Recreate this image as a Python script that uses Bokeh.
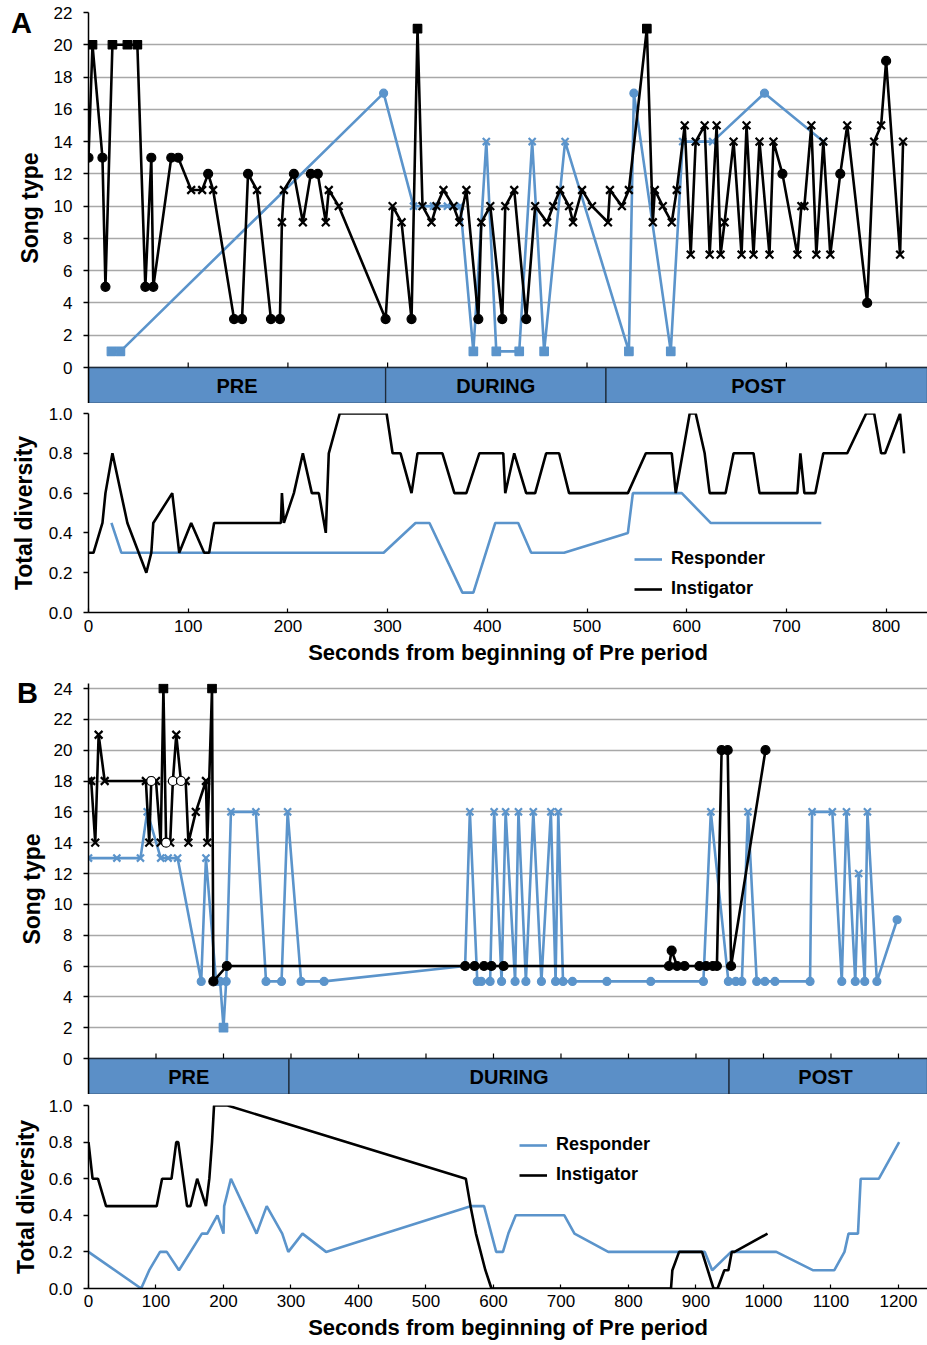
import numpy as np
from bokeh.plotting import figure
from bokeh.layouts import column
from bokeh.models import (FixedTicker, Legend, LegendItem, Range1d, Div,
                          NumeralTickFormatter)
from bokeh.core.properties import value
from bokeh.embed import file_html
from bokeh.resources import INLINE

FONT = "Liberation Sans"
BLUE = "#5B94CB"
BAR = "#5B8FC7"
BLACK = "#000000"

# ---------------- Panel A : song type ----------------
a_inst_t = [0, 4, 14, 17, 24, 39, 49, 57, 63, 65,
            83, 90, 103, 114, 120, 125, 146, 154, 160, 169,
            183, 192, 194, 196, 206, 215, 223, 230, 238, 241,
            251, 298, 305, 314, 324, 330, 335, 344, 349, 356,
            366, 372, 379, 391, 394, 403, 415, 418, 427, 439,
            448, 460, 466, 473, 482, 486, 495, 505, 521, 523,
            535, 542, 560, 566, 568, 576, 585, 590, 598, 604,
            609, 618, 623, 630, 634, 638, 647, 655, 660, 667,
            673, 683, 687, 696, 711, 715, 718, 725, 730, 737,
            744, 754, 761, 781, 788, 795, 800, 814, 817]
a_inst_v = [13, 20, 13, 5, 20, 20, 20, 5, 13, 5,
            13, 13, 11, 11, 12, 11, 3, 3, 12, 11,
            3, 3, 9, 11, 12, 9, 12, 12, 9, 11,
            10, 3, 10, 9, 3, 21, 10, 9, 10, 11,
            10, 9, 11, 3, 9, 10, 3, 10, 11, 3,
            10, 9, 10, 11, 10, 9, 11, 10, 9, 11,
            10, 11, 21, 9, 11, 10, 9, 11, 15, 7,
            14, 15, 7, 15, 7, 9, 14, 7, 15, 7,
            14, 7, 14, 12, 7, 10, 10, 15, 7, 14,
            7, 12, 15, 4, 14, 15, 19, 7, 14]
a_inst_m = list("osoosssooo"
                "ooxxoxooox"
                "ooxxoxooxx"
                "xoxxosxxxx"
                "xxxoxxoxxo"
                "xxxxxxxxxx"
                "xxsxxxxxxx"
                "xxxxxxxxxx"
                "xxxoxxxxxx"
                "xoxoxxoxx")

a_resp_t = [23, 32, 296, 326, 346, 360, 373, 386, 399, 409,
            432, 445, 457, 478, 542, 547, 584, 596, 609, 626,
            678, 737]
a_resp_v = [1, 1, 17, 10, 10, 10, 10, 1, 14, 1,
            1, 14, 1, 14, 1, 17, 1, 14, 14, 14,
            17, 14]
a_resp_m = list("ssoxxxxsxs"
                "sxsxsosxxx"
                "ox")

# ---------------- Panel A : total diversity ----------------
a_div_inst_t = [0, 5, 14, 17, 24, 39, 58, 63, 65, 84, 91, 103, 116, 121, 126,
                193, 194, 196, 206, 215, 224, 231, 238, 241, 252, 299, 305, 313,
                324, 330, 355, 367, 379, 392, 416, 418, 427, 439, 448, 459, 472,
                482, 541, 559, 585, 589, 603, 609, 618, 623, 639, 647, 667, 673,
                711, 714, 718, 729, 737, 761, 780, 788, 795, 799, 814, 818]
a_div_inst_v = [0.3, 0.3, 0.45, 0.6, 0.8, 0.45, 0.2, 0.3, 0.45, 0.6, 0.3, 0.45, 0.3, 0.3, 0.45,
                0.45, 0.6, 0.45, 0.6, 0.8, 0.6, 0.6, 0.4, 0.8, 1.0, 1.0, 0.8, 0.8,
                0.6, 0.8, 0.8, 0.6, 0.6, 0.8, 0.8, 0.6, 0.8, 0.6, 0.6, 0.8, 0.8,
                0.6, 0.6, 0.8, 0.8, 0.6, 1.0, 1.0, 0.8, 0.6, 0.6, 0.8, 0.8, 0.6,
                0.6, 0.8, 0.6, 0.6, 0.8, 0.8, 1.0, 1.0, 0.8, 0.8, 1.0, 0.8]
a_div_resp_t = [23, 33, 296, 328, 342, 375, 386, 408, 431, 444, 477, 541, 546, 595, 624, 735]
a_div_resp_v = [0.45, 0.3, 0.3, 0.45, 0.45, 0.1, 0.1, 0.45, 0.45, 0.3, 0.3, 0.4, 0.6, 0.6, 0.45, 0.45]

# ---------------- Panel B : song type ----------------
b_inst_t = [0, 4, 10, 15, 24, 85, 90, 93, 100, 107,
            111, 115, 121, 125, 130, 137, 144, 148, 159, 174,
            176, 183, 185, 205, 558, 572, 586, 597, 615, 860,
            864, 872, 883, 905, 915, 925, 931, 938, 947, 952,
            1003]
b_inst_v = [18, 18, 14, 21, 18, 18, 14, 18, 18, 14,
            24, 14, 14, 18, 21, 18, 18, 14, 16, 18,
            14, 24, 5, 6, 6, 6, 6, 6, 6, 6,
            7, 6, 6, 6, 6, 6, 6, 20, 20, 6,
            20]
b_inst_m = list("xxxxxxxcxx"
                "scxcxcxxxx"
                "xsoooooooo"
                "oooooooooo"
                "o")

b_resp_t = [0, 42, 77, 87, 107, 118, 132, 167, 174, 189,
            195, 200, 204, 211, 248, 263, 286, 295, 315, 349,
            558, 565, 576, 582, 595, 601, 612, 618, 632, 637,
            648, 659, 671, 685, 692, 696, 703, 717, 768, 833,
            911, 922, 948, 959, 968, 977, 990, 1002, 1017, 1069,
            1072, 1102, 1116, 1123, 1136, 1141, 1150, 1154, 1168, 1198]
b_resp_v = [13, 13, 13, 16, 13, 13, 13, 5, 13, 5,
            5, 2, 5, 16, 16, 5, 5, 16, 5, 5,
            6, 16, 5, 5, 5, 16, 5, 16, 5, 16,
            5, 16, 5, 16, 5, 16, 5, 5, 5, 5,
            5, 16, 5, 5, 5, 16, 5, 5, 5, 5,
            16, 16, 5, 16, 5, 12, 5, 16, 5, 9]
b_resp_m = list("xxxxxxxoxo"
                "osoxxooxoo"
                "oxoooxoxox"
                "oxoxoxoooo"
                "oxoooxoooo"
                "xxoxoxoxoo")

# ---------------- Panel B : total diversity ----------------
b_div_inst_t = [0, 6, 14, 26, 101, 109, 123, 130, 133, 146, 151, 161, 174, 179, 183, 186,
                206, 559, 566, 574, 588, 597, 863, 865, 875, 909, 926, 932, 942, 948,
                953, 957, 1006]
b_div_inst_v = [0.8, 0.6, 0.6, 0.45, 0.45, 0.6, 0.6, 0.8, 0.8, 0.45, 0.45, 0.6, 0.45, 0.6, 0.8, 1.0,
                1.0, 0.6, 0.45, 0.3, 0.1, 0.0, 0.0, 0.1, 0.2, 0.2, 0.0, 0.0, 0.1, 0.1,
                0.2, 0.2, 0.3]
b_div_resp_t = [0, 78, 90, 106, 116, 134, 168, 176, 191, 200, 201, 211, 249, 264, 287, 296,
                317, 352, 566, 586, 604, 614, 622, 633, 705, 720, 770, 913, 924, 952,
                1019, 1073, 1105, 1120, 1126, 1140, 1144, 1171, 1201]
b_div_resp_v = [0.2, 0.0, 0.1, 0.2, 0.2, 0.1, 0.3, 0.3, 0.4, 0.3, 0.45, 0.6, 0.3, 0.45, 0.3, 0.2,
                0.3, 0.2, 0.45, 0.45, 0.2, 0.2, 0.3, 0.4, 0.4, 0.3, 0.2, 0.2, 0.1, 0.2,
                0.2, 0.1, 0.1, 0.2, 0.3, 0.3, 0.6, 0.6, 0.8]

# ---------------- phases & ticks ----------------
phases = ["PRE", "DURING", "POST"]
a_phase_start = [0, 298, 519]
a_phase_end = [298, 519, 825]
b_phase_start = [0, 297, 949]
b_phase_end = [297, 949, 1235]

a_xticks = [0, 100, 200, 300, 400, 500, 600, 700, 800]
b_xticks = [0, 100, 200, 300, 400, 500, 600, 700, 800, 900, 1000, 1100, 1200]
a_song_ticks = [0, 2, 4, 6, 8, 10, 12, 14, 16, 18, 20, 22]
b_song_ticks = [0, 2, 4, 6, 8, 10, 12, 14, 16, 18, 20, 22, 24]
div_ticks = [0.0, 0.2, 0.4, 0.6, 0.8, 1.0]
panel_letters = ["A", "B"]

LEFT = 88
FRAME_W = 927 - LEFT
A_XMAX = 841.5
B_XMAX = 1243.0


def base_fig(xmax, ymin, ymax, frame_h, top, bottom, xaxis):
    p = figure(frame_width=FRAME_W, frame_height=frame_h,
               x_range=Range1d(0, xmax), y_range=Range1d(ymin, ymax),
               output_backend="svg", toolbar_location=None,
               min_border_left=LEFT, min_border_right=0,
               min_border_top=top, min_border_bottom=bottom,
               x_axis_location="below" if xaxis else None)
    p.outline_line_color = None
    p.background_fill_color = "white"
    p.border_fill_color = None
    p.xgrid.visible = False
    ax = p.yaxis[0]
    ax.axis_line_color = BLACK
    ax.axis_line_width = 1.5
    ax.major_tick_line_color = BLACK
    ax.major_tick_line_width = 1.5
    ax.major_tick_out = 5
    ax.major_tick_in = 0
    ax.minor_tick_line_color = None
    ax.major_label_text_font = FONT
    ax.major_label_text_font_size = "17px"
    ax.major_label_text_color = BLACK
    ax.major_label_standoff = 11
    ax.axis_label_text_font = FONT
    ax.axis_label_text_font_size = "23px"
    ax.axis_label_text_font_style = "bold"
    ax.axis_label_text_color = BLACK
    return p


def style_xaxis(p, ticks, lab_std, title_std):
    ax = p.xaxis[0]
    ax.ticker = FixedTicker(ticks=ticks)
    ax.axis_line_color = BLACK
    ax.axis_line_width = 1.5
    ax.major_tick_line_color = BLACK
    ax.major_tick_line_width = 1.2
    ax.major_tick_in = 4
    ax.major_tick_out = 0
    ax.minor_tick_line_color = None
    ax.major_label_text_font = FONT
    ax.major_label_text_font_size = "17px"
    ax.major_label_text_color = BLACK
    ax.major_label_standoff = lab_std
    ax.axis_label = "Seconds from beginning of Pre period"
    ax.axis_label_text_font = FONT
    ax.axis_label_text_font_size = "22px"
    ax.axis_label_text_font_style = "bold"
    ax.axis_label_text_color = BLACK
    ax.axis_label_standoff = title_std


def song_series(p, t, v, m, color, big):
    p.line(t, v, line_color=color, line_width=2.6)
    kinds = {"o": "circle", "s": "square", "x": "x", "c": "circle"}
    size = {"o": 9 if big else 8, "s": 8.5 if big else 8.5,
            "x": 11 if big else 10, "c": 9}
    for k in "sxoc":
        xs = [a for a, mm in zip(t, m) if mm == k]
        ys = [b for b, mm in zip(v, m) if mm == k]
        if not xs:
            continue
        fill = "white" if k == "c" else color
        lw = 2.2 if k == "x" else 1.2
        p.scatter(xs, ys, marker=kinds[k], size=size[k], fill_color=fill,
                  line_color=color, line_width=lw)


def make_song(xmax, ymax, yticks, xticks, unit_px, bar_px, head_px, top, starts, ends,
              resp, inst, std):
    frame_h = int(round(ymax * unit_px + bar_px + head_px))
    ymin = -bar_px / unit_px
    ytop = ymax + head_px / unit_px
    p = base_fig(xmax, ymin, ytop, frame_h, top, 0, False)
    ax = p.yaxis[0]
    ax.ticker = FixedTicker(ticks=yticks)
    ax.axis_label = "Song type"
    ax.axis_label_standoff = std
    p.ygrid.ticker = FixedTicker(ticks=yticks)
    p.ygrid.grid_line_color = "#A8A8A8"
    p.ygrid.grid_line_width = 1.6
    # phase bar
    rights = list(ends[:-1]) + [xmax]
    p.quad(left=starts, right=rights, bottom=ymin, top=0, fill_color=BAR,
           line_color="#1E2B3A", line_width=1.3)
    centers = [(s + e) / 2 for s, e in zip(starts, ends)]
    p.text(x=centers, y=ymin / 2, text=phases, text_align="center",
           text_baseline="middle", text_font=value(FONT), text_font_size="20px",
           text_font_style="bold", text_color=BLACK)
    # inward ticks on the zero line
    p.ray(x=xticks[1:], y=0, length=5, length_units="screen", angle=np.pi / 2,
          line_color=BLACK, line_width=1.2)
    song_series(p, resp[0], resp[1], resp[2], BLUE, False)
    song_series(p, inst[0], inst[1], inst[2], BLACK, True)
    return p


def make_div(xmax, xticks, frame_h, top, bottom, resp, inst, std, leg_xy, lab_std, title_std):
    p = base_fig(xmax, 0, 1.0, frame_h, top, bottom, True)
    p.ygrid.visible = False
    ax = p.yaxis[0]
    ax.ticker = FixedTicker(ticks=div_ticks)
    ax.formatter = NumeralTickFormatter(format="0.0")
    ax.axis_label = "Total diversity"
    ax.axis_label_standoff = std
    style_xaxis(p, xticks, lab_std, title_std)
    r1 = p.line(resp[0], resp[1], line_color=BLUE, line_width=2.6)
    r2 = p.line(inst[0], inst[1], line_color=BLACK, line_width=2.6)
    leg = Legend(items=[LegendItem(label="Responder", renderers=[r1]),
                        LegendItem(label="Instigator", renderers=[r2])],
                 location=leg_xy, orientation="vertical")
    leg.border_line_color = None
    leg.background_fill_alpha = 0
    leg.label_text_font = FONT
    leg.label_text_font_size = "18px"
    leg.label_text_font_style = "bold"
    leg.label_text_color = BLACK
    leg.glyph_width = 28
    leg.glyph_height = 20
    leg.label_standoff = 9
    leg.spacing = 9
    leg.padding = 5
    leg.margin = 0
    p.add_layout(leg)
    return p


def letter(txt, left, top):
    return Div(text=txt, styles={"position": "absolute", "left": f"{left}px",
                                 "top": f"{top}px", "z-index": "10",
                                 "font-family": FONT, "font-weight": "bold",
                                 "font-size": "29px", "line-height": "1",
                                 "color": "black", "margin": "0", "padding": "0"})


pA1 = make_song(A_XMAX, 22, a_song_ticks, a_xticks, 355 / 22, 36, 0, 12,
                a_phase_start, a_phase_end,
                (a_resp_t, a_resp_v, a_resp_m), (a_inst_t, a_inst_v, a_inst_m), 8)
pA2 = make_div(A_XMAX, a_xticks, 199, 10, 66,
               (a_div_resp_t, a_div_resp_v), (a_div_inst_t, a_div_inst_v),
               9, (546, 13), 7, 5)
pB1 = make_song(B_XMAX, 24, b_song_ticks, b_xticks, 370 / 24, 36, 5, 5,
                b_phase_start, b_phase_end,
                (b_resp_t, b_resp_v, b_resp_m), (b_inst_t, b_inst_v, b_inst_m), 6)
pB2 = make_div(B_XMAX, b_xticks, 183, 11, 50,
               (b_div_resp_t, b_div_resp_v), (b_div_inst_t, b_div_inst_v),
               7, (431, 103), 6, 5)

layout = column(pA1, pA2, pB1, pB2,
                letter(panel_letters[0], 11, 9), letter(panel_letters[1], 17, 679),
                spacing=0)
open("out.html", "w").write(file_html(layout, INLINE))
